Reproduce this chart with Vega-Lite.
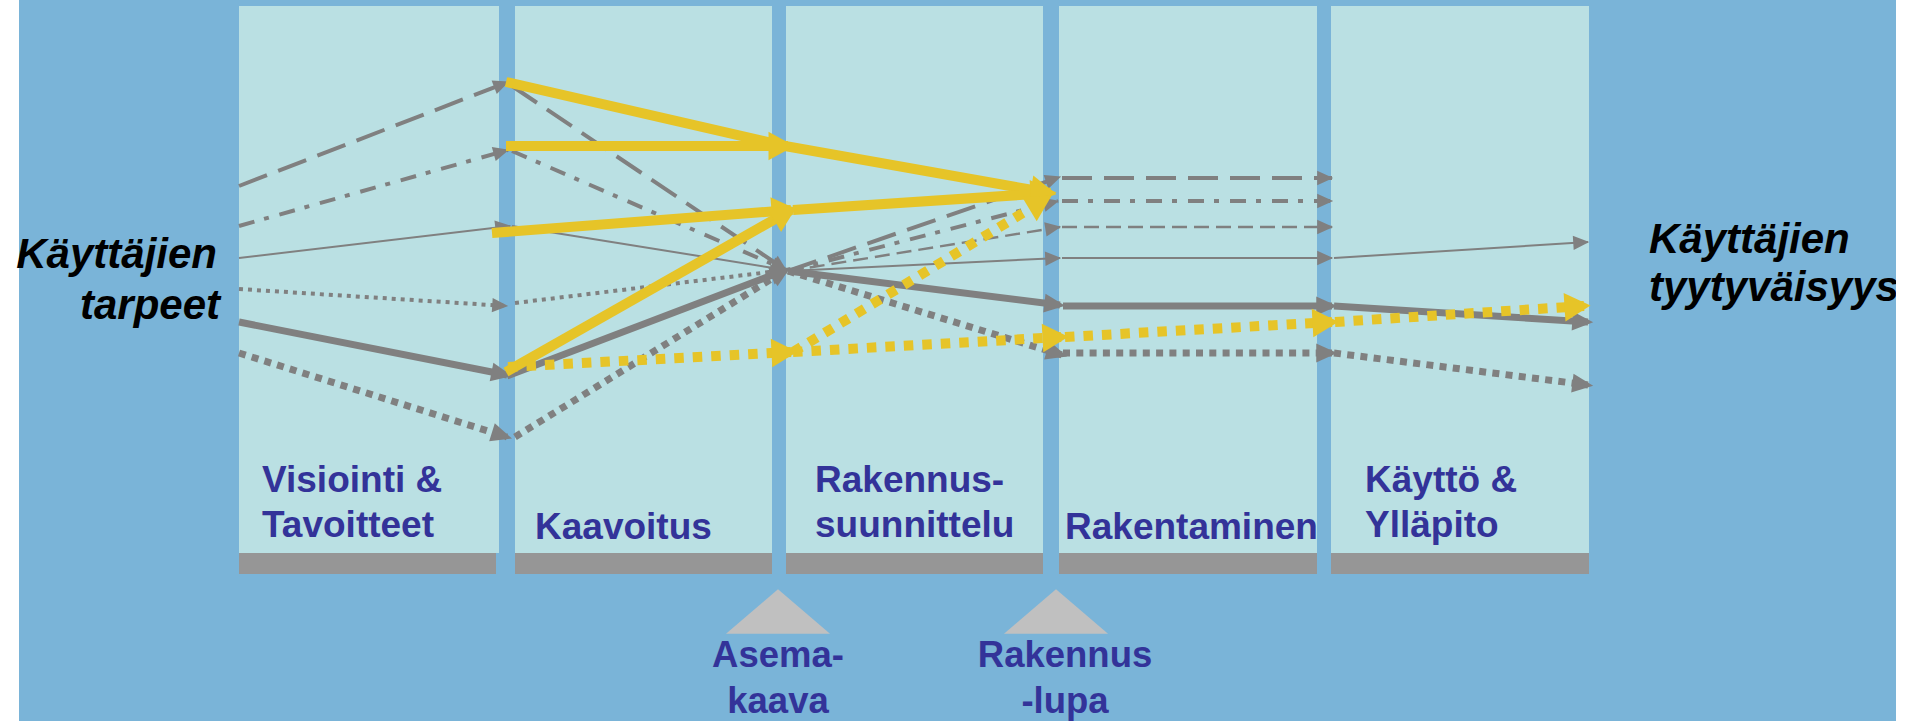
{
  "$schema": "https://vega.github.io/schema/vega-lite/v6.json",
  "width": 1907,
  "height": 721,
  "padding": 0,
  "autosize": {"type": "none"},
  "background": "#ffffff",
  "config": {"view": {"stroke": null}},
  "datasets": {
    "areas": [
      {"kind": "bg", "x": 19, "x2": 1896, "y": 0, "y2": 721},
      {"kind": "panel", "x": 239, "x2": 499, "y": 6, "y2": 553},
      {"kind": "panel", "x": 515, "x2": 772, "y": 6, "y2": 553},
      {"kind": "panel", "x": 786, "x2": 1043, "y": 6, "y2": 553},
      {"kind": "panel", "x": 1059, "x2": 1317, "y": 6, "y2": 553},
      {"kind": "panel", "x": 1331, "x2": 1589, "y": 6, "y2": 553},
      {"kind": "bar", "x": 239, "x2": 496, "y": 553, "y2": 574},
      {"kind": "bar", "x": 515, "x2": 772, "y": 553, "y2": 574},
      {"kind": "bar", "x": 786, "x2": 1043, "y": 553, "y2": 574},
      {"kind": "bar", "x": 1059, "x2": 1317, "y": 553, "y2": 574},
      {"kind": "bar", "x": 1331, "x2": 1589, "y": 553, "y2": 574},
      {"kind": "margin", "x": 1896, "x2": 1907, "y": 0, "y2": 721}
    ],
    "markers": [
      {"name": "Asemakaava", "x": 778, "y": 611.5},
      {"name": "Rakennuslupa", "x": 1056, "y": 611.5}
    ],
    "labels": [
      {"g": "stage", "t": "Visiointi &", "x": 262, "y": 492},
      {"g": "stage", "t": "Tavoitteet", "x": 262, "y": 537},
      {"g": "stage", "t": "Kaavoitus", "x": 535, "y": 539},
      {"g": "stage", "t": "Rakennus-", "x": 815, "y": 492},
      {"g": "stage", "t": "suunnittelu", "x": 815, "y": 537},
      {"g": "stage", "t": "Rakentaminen", "x": 1065, "y": 539},
      {"g": "stage", "t": "Käyttö &", "x": 1365, "y": 492},
      {"g": "stage", "t": "Ylläpito", "x": 1365, "y": 537},
      {"g": "gate", "t": "Asema-", "x": 778, "y": 667},
      {"g": "gate", "t": "kaava", "x": 778, "y": 713},
      {"g": "gate", "t": "Rakennus", "x": 1065, "y": 667},
      {"g": "gate", "t": "-lupa", "x": 1065, "y": 713},
      {"g": "endL", "t": "Käyttäjien", "x": 217, "y": 268},
      {"g": "endL", "t": "tarpeet", "x": 220, "y": 319},
      {"g": "endR", "t": "Käyttäjien", "x": 1649, "y": 253},
      {"g": "endR", "t": "tyytyväisyys", "x": 1649, "y": 301}
    ],
    "segs": [
      {"s": "longdash", "x1": 239, "y1": 186, "x2": 508, "y2": 82, "head": 1},
      {"s": "longdash", "x1": 512, "y1": 86, "x2": 786, "y2": 270, "head": 1},
      {"s": "longdash", "x1": 788, "y1": 271, "x2": 1060, "y2": 177, "head": 1},
      {"s": "longdash", "x1": 1062, "y1": 178, "x2": 1332, "y2": 178, "head": 1},
      {"s": "dashdot", "x1": 239, "y1": 226, "x2": 508, "y2": 150, "head": 1},
      {"s": "dashdot", "x1": 512, "y1": 151, "x2": 786, "y2": 270, "head": 1},
      {"s": "dashdot", "x1": 788, "y1": 271, "x2": 1058, "y2": 201, "head": 1},
      {"s": "dashdot", "x1": 1062, "y1": 201, "x2": 1332, "y2": 201, "head": 1},
      {"s": "thindash", "x1": 788, "y1": 271, "x2": 1060, "y2": 227, "head": 1},
      {"s": "thindash", "x1": 1062, "y1": 227, "x2": 1332, "y2": 227, "head": 1},
      {"s": "thin", "x1": 239, "y1": 258, "x2": 510, "y2": 226, "head": 1},
      {"s": "thin", "x1": 512, "y1": 226, "x2": 786, "y2": 270, "head": 1},
      {"s": "thin", "x1": 788, "y1": 271, "x2": 1060, "y2": 258, "head": 1},
      {"s": "thin", "x1": 1062, "y1": 258, "x2": 1332, "y2": 258, "head": 1},
      {"s": "thin", "x1": 1334, "y1": 258, "x2": 1588, "y2": 242, "head": 1},
      {"s": "finedot", "x1": 239, "y1": 289, "x2": 507, "y2": 306, "head": 1},
      {"s": "finedot", "x1": 515, "y1": 303, "x2": 786, "y2": 270, "head": 1},
      {"s": "thick", "x1": 239, "y1": 322, "x2": 507, "y2": 375, "head": 1},
      {"s": "thick", "x1": 507, "y1": 376, "x2": 786, "y2": 270, "head": 1},
      {"s": "thick", "x1": 788, "y1": 271, "x2": 1060, "y2": 305, "head": 1},
      {"s": "thick", "x1": 1063, "y1": 306, "x2": 1332, "y2": 306, "head": 1},
      {"s": "thick", "x1": 1334, "y1": 306, "x2": 1588, "y2": 322, "head": 1},
      {"s": "thickdot", "x1": 239, "y1": 353, "x2": 507, "y2": 437, "head": 1},
      {"s": "thickdot", "x1": 515, "y1": 437, "x2": 786, "y2": 270, "head": 1},
      {"s": "thickdot", "x1": 788, "y1": 271, "x2": 1062, "y2": 355, "head": 1},
      {"s": "thickdot", "x1": 1063, "y1": 353, "x2": 1332, "y2": 353, "head": 1},
      {"s": "thickdot", "x1": 1334, "y1": 353, "x2": 1588, "y2": 385, "head": 1},
      {"s": "yellow", "x1": 506, "y1": 82, "x2": 785, "y2": 146, "head": 0},
      {"s": "yellow", "x1": 785, "y1": 146, "x2": 1050, "y2": 193, "head": 1},
      {"s": "yellow", "x1": 506, "y1": 146, "x2": 788, "y2": 146, "head": 1},
      {"s": "yellow", "x1": 492, "y1": 233, "x2": 791, "y2": 210, "head": 1},
      {"s": "yellow", "x1": 506, "y1": 372, "x2": 791, "y2": 210, "head": 1},
      {"s": "yellow", "x1": 793, "y1": 210, "x2": 1050, "y2": 193, "head": 1},
      {"s": "yellowdot", "x1": 508, "y1": 367, "x2": 791, "y2": 352, "head": 1},
      {"s": "yellowdot", "x1": 793, "y1": 352, "x2": 1046, "y2": 199, "head": 1},
      {"s": "yellowdot", "x1": 793, "y1": 352, "x2": 1062, "y2": 337, "head": 1},
      {"s": "yellowdot", "x1": 1065, "y1": 337, "x2": 1332, "y2": 322, "head": 1},
      {"s": "yellowdot", "x1": 1335, "y1": 322, "x2": 1584, "y2": 306, "head": 1}
    ]
  },
  "layer": [
    {
      "data": {"name": "areas"},
      "transform": [{"filter": "datum.kind == 'bg'"}],
      "mark": {"type": "rect", "fill": "#7AB4D8", "stroke": null},
      "encoding": {
        "x": {"field": "x", "type": "quantitative", "scale": {"domain": [0, 1907], "nice": false, "zero": false}, "axis": null},
        "x2": {"field": "x2"},
        "y": {"field": "y", "type": "quantitative", "scale": {"domain": [0, 721], "reverse": true, "nice": false, "zero": false}, "axis": null},
        "y2": {"field": "y2"}
      }
    },
    {
      "data": {"name": "areas"},
      "transform": [{"filter": "datum.kind == 'panel'"}],
      "mark": {"type": "rect", "fill": "#BAE0E3", "stroke": null},
      "encoding": {
        "x": {"field": "x", "type": "quantitative", "axis": null},
        "x2": {"field": "x2"},
        "y": {"field": "y", "type": "quantitative", "axis": null},
        "y2": {"field": "y2"}
      }
    },
    {
      "data": {"name": "areas"},
      "transform": [{"filter": "datum.kind == 'bar'"}],
      "mark": {"type": "rect", "fill": "#969696", "stroke": null},
      "encoding": {
        "x": {"field": "x", "type": "quantitative", "axis": null},
        "x2": {"field": "x2"},
        "y": {"field": "y", "type": "quantitative", "axis": null},
        "y2": {"field": "y2"}
      }
    },
    {
      "data": {"name": "markers"},
      "mark": {"type": "point", "shape": "M-1,0.43L0,-0.43L1,0.43Z", "size": 10816, "filled": true, "fill": "#C0C0C0", "opacity": 1, "strokeWidth": 0},
      "encoding": {
        "x": {"field": "x", "type": "quantitative", "axis": null},
        "y": {"field": "y", "type": "quantitative", "axis": null}
      }
    },
    {
      "data": {"name": "segs"},
      "transform": [{"filter": "datum.s == 'longdash'"}],
      "mark": {"type": "rule", "stroke": "#808080", "strokeWidth": 4, "strokeDash": [30, 12]},
      "encoding": {
        "x": {"field": "x1", "type": "quantitative", "axis": null},
        "y": {"field": "y1", "type": "quantitative", "axis": null},
        "x2": {"field": "x2"},
        "y2": {"field": "y2"}
      }
    },
    {
      "data": {"name": "segs"},
      "transform": [{"filter": "datum.s == 'dashdot'"}],
      "mark": {"type": "rule", "stroke": "#808080", "strokeWidth": 4, "strokeDash": [16, 10, 5, 11]},
      "encoding": {
        "x": {"field": "x1", "type": "quantitative", "axis": null},
        "y": {"field": "y1", "type": "quantitative", "axis": null},
        "x2": {"field": "x2"},
        "y2": {"field": "y2"}
      }
    },
    {
      "data": {"name": "segs"},
      "transform": [{"filter": "datum.s == 'thindash'"}],
      "mark": {"type": "rule", "stroke": "#808080", "strokeWidth": 2.4, "strokeDash": [15, 7]},
      "encoding": {
        "x": {"field": "x1", "type": "quantitative", "axis": null},
        "y": {"field": "y1", "type": "quantitative", "axis": null},
        "x2": {"field": "x2"},
        "y2": {"field": "y2"}
      }
    },
    {
      "data": {"name": "segs"},
      "transform": [{"filter": "datum.s == 'thin'"}],
      "mark": {"type": "rule", "stroke": "#808080", "strokeWidth": 2},
      "encoding": {
        "x": {"field": "x1", "type": "quantitative", "axis": null},
        "y": {"field": "y1", "type": "quantitative", "axis": null},
        "x2": {"field": "x2"},
        "y2": {"field": "y2"}
      }
    },
    {
      "data": {"name": "segs"},
      "transform": [{"filter": "datum.s == 'finedot'"}],
      "mark": {"type": "rule", "stroke": "#808080", "strokeWidth": 4, "strokeDash": [4, 5]},
      "encoding": {
        "x": {"field": "x1", "type": "quantitative", "axis": null},
        "y": {"field": "y1", "type": "quantitative", "axis": null},
        "x2": {"field": "x2"},
        "y2": {"field": "y2"}
      }
    },
    {
      "data": {"name": "segs"},
      "transform": [{"filter": "datum.s == 'thick'"}],
      "mark": {"type": "rule", "stroke": "#808080", "strokeWidth": 7},
      "encoding": {
        "x": {"field": "x1", "type": "quantitative", "axis": null},
        "y": {"field": "y1", "type": "quantitative", "axis": null},
        "x2": {"field": "x2"},
        "y2": {"field": "y2"}
      }
    },
    {
      "data": {"name": "segs"},
      "transform": [{"filter": "datum.s == 'thickdot'"}],
      "mark": {"type": "rule", "stroke": "#808080", "strokeWidth": 7, "strokeDash": [7, 6.3]},
      "encoding": {
        "x": {"field": "x1", "type": "quantitative", "axis": null},
        "y": {"field": "y1", "type": "quantitative", "axis": null},
        "x2": {"field": "x2"},
        "y2": {"field": "y2"}
      }
    },
    {
      "data": {"name": "segs"},
      "transform": [
        {"filter": "datum.head == 1 && (datum.s == 'longdash' || datum.s == 'dashdot' || datum.s == 'thindash' || datum.s == 'thin' || datum.s == 'finedot')"},
        {"calculate": "atan2(datum.y2 - datum.y1, datum.x2 - datum.x1) * 180 / PI", "as": "ang"}
      ],
      "mark": {"type": "point", "shape": "M0.15,0L-1.85,-0.9L-1.85,0.9Z", "size": 256, "filled": true, "fill": "#808080", "opacity": 1, "strokeWidth": 0},
      "encoding": {
        "x": {"field": "x2", "type": "quantitative", "axis": null},
        "y": {"field": "y2", "type": "quantitative", "axis": null},
        "angle": {"field": "ang", "type": "quantitative", "scale": null}
      }
    },
    {
      "data": {"name": "segs"},
      "transform": [
        {"filter": "datum.head == 1 && (datum.s == 'thick' || datum.s == 'thickdot')"},
        {"calculate": "atan2(datum.y2 - datum.y1, datum.x2 - datum.x1) * 180 / PI", "as": "ang"}
      ],
      "mark": {"type": "point", "shape": "M0.5,0L-1.5,-0.9L-1.5,0.9Z", "size": 441, "filled": true, "fill": "#808080", "opacity": 1, "strokeWidth": 0},
      "encoding": {
        "x": {"field": "x2", "type": "quantitative", "axis": null},
        "y": {"field": "y2", "type": "quantitative", "axis": null},
        "angle": {"field": "ang", "type": "quantitative", "scale": null}
      }
    },
    {
      "data": {"name": "segs"},
      "transform": [{"filter": "datum.s == 'yellow'"}],
      "mark": {"type": "rule", "stroke": "#E6C428", "strokeWidth": 10},
      "encoding": {
        "x": {"field": "x1", "type": "quantitative", "axis": null},
        "y": {"field": "y1", "type": "quantitative", "axis": null},
        "x2": {"field": "x2"},
        "y2": {"field": "y2"}
      }
    },
    {
      "data": {"name": "segs"},
      "transform": [{"filter": "datum.s == 'yellowdot'"}],
      "mark": {"type": "rule", "stroke": "#E6C428", "strokeWidth": 10, "strokeDash": [9.5, 9]},
      "encoding": {
        "x": {"field": "x1", "type": "quantitative", "axis": null},
        "y": {"field": "y1", "type": "quantitative", "axis": null},
        "x2": {"field": "x2"},
        "y2": {"field": "y2"}
      }
    },
    {
      "data": {"name": "segs"},
      "transform": [
        {"filter": "datum.head == 1 && (datum.s == 'yellow' || datum.s == 'yellowdot')"},
        {"calculate": "atan2(datum.y2 - datum.y1, datum.x2 - datum.x1) * 180 / PI", "as": "ang"}
      ],
      "mark": {"type": "point", "shape": "M0.5,0L-1.5,-1.1L-1.5,1.1Z", "size": 676, "filled": true, "fill": "#E6C428", "opacity": 1, "strokeWidth": 0},
      "encoding": {
        "x": {"field": "x2", "type": "quantitative", "axis": null},
        "y": {"field": "y2", "type": "quantitative", "axis": null},
        "angle": {"field": "ang", "type": "quantitative", "scale": null}
      }
    },
    {
      "data": {"name": "labels"},
      "transform": [{"filter": "datum.g == 'stage'"}],
      "mark": {"type": "text", "align": "left", "baseline": "alphabetic", "font": "Liberation Sans", "fontWeight": "bold", "fontSize": 37, "fill": "#333399"},
      "encoding": {
        "x": {"field": "x", "type": "quantitative", "axis": null},
        "y": {"field": "y", "type": "quantitative", "axis": null},
        "text": {"field": "t"}
      }
    },
    {
      "data": {"name": "labels"},
      "transform": [{"filter": "datum.g == 'gate'"}],
      "mark": {"type": "text", "align": "center", "baseline": "alphabetic", "font": "Liberation Sans", "fontWeight": "bold", "fontSize": 36.5, "fill": "#333399"},
      "encoding": {
        "x": {"field": "x", "type": "quantitative", "axis": null},
        "y": {"field": "y", "type": "quantitative", "axis": null},
        "text": {"field": "t"}
      }
    },
    {
      "data": {"name": "labels"},
      "transform": [{"filter": "datum.g == 'endL'"}],
      "mark": {"type": "text", "align": "right", "baseline": "alphabetic", "font": "Liberation Sans", "fontWeight": "bold", "fontStyle": "italic", "fontSize": 42, "fill": "#000000"},
      "encoding": {
        "x": {"field": "x", "type": "quantitative", "axis": null},
        "y": {"field": "y", "type": "quantitative", "axis": null},
        "text": {"field": "t"}
      }
    },
    {
      "data": {"name": "labels"},
      "transform": [{"filter": "datum.g == 'endR'"}],
      "mark": {"type": "text", "align": "left", "baseline": "alphabetic", "font": "Liberation Sans", "fontWeight": "bold", "fontStyle": "italic", "fontSize": 42, "fill": "#000000"},
      "encoding": {
        "x": {"field": "x", "type": "quantitative", "axis": null},
        "y": {"field": "y", "type": "quantitative", "axis": null},
        "text": {"field": "t"}
      }
    },
    {
      "data": {"name": "areas"},
      "transform": [{"filter": "datum.kind == 'margin'"}],
      "mark": {"type": "rect", "fill": "#ffffff", "stroke": null},
      "encoding": {
        "x": {"field": "x", "type": "quantitative", "axis": null},
        "x2": {"field": "x2"},
        "y": {"field": "y", "type": "quantitative", "axis": null},
        "y2": {"field": "y2"}
      }
    }
  ]
}
